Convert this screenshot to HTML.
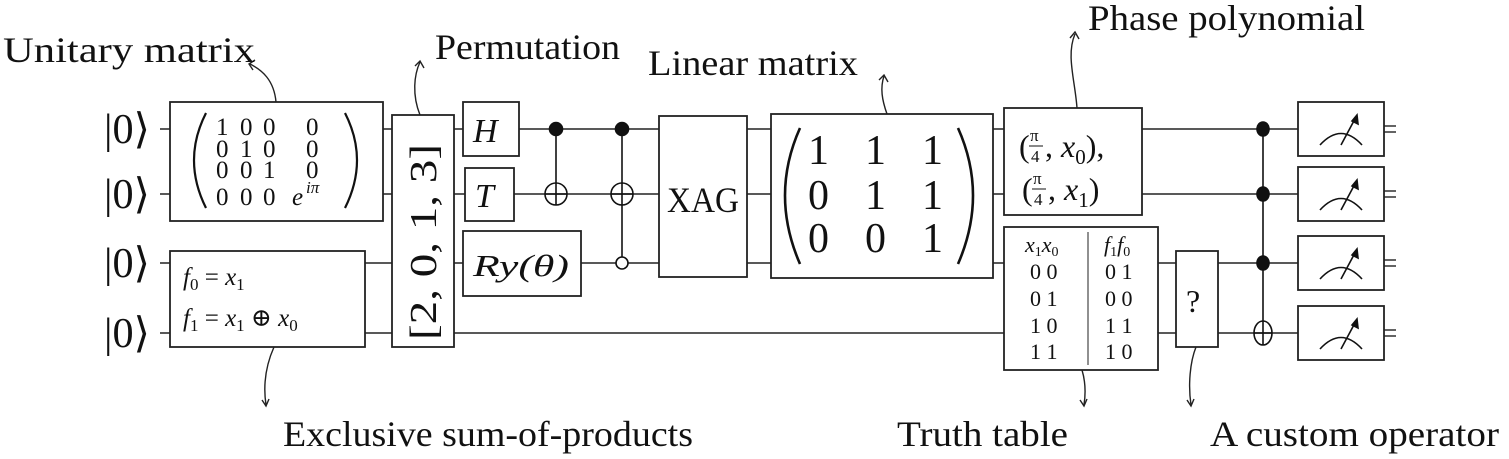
<!DOCTYPE html>
<html><head><meta charset="utf-8"><style>
html,body{margin:0;padding:0;background:#fff;}
svg{display:block;}
text{font-family:"Liberation Serif","DejaVu Serif",serif;fill:#111;}
.it{font-style:italic;}
</style></head><body>
<svg width="1509" height="459" viewBox="0 0 1509 459">
<g stroke="#222" stroke-width="1.6" fill="none">
  <line x1="160" y1="129" x2="1298" y2="129"/>
  <line x1="160" y1="194" x2="1298" y2="194"/>
  <line x1="160" y1="263" x2="1298" y2="263"/>
  <line x1="160" y1="333" x2="1298" y2="333"/>
  <g stroke-width="1.4">
    <line x1="1384" y1="126" x2="1396" y2="126"/><line x1="1384" y1="132" x2="1396" y2="132"/>
    <line x1="1384" y1="191" x2="1396" y2="191"/><line x1="1384" y1="197" x2="1396" y2="197"/>
    <line x1="1384" y1="260" x2="1396" y2="260"/><line x1="1384" y1="266" x2="1396" y2="266"/>
    <line x1="1384" y1="330" x2="1396" y2="330"/><line x1="1384" y1="336" x2="1396" y2="336"/>
  </g>
</g>

<g font-size="42">
  <text x="104" y="143" textLength="46" lengthAdjust="spacingAndGlyphs">|0⟩</text>
  <text x="104" y="208" textLength="46" lengthAdjust="spacingAndGlyphs">|0⟩</text>
  <text x="104" y="277" textLength="46" lengthAdjust="spacingAndGlyphs">|0⟩</text>
  <text x="104" y="347" textLength="46" lengthAdjust="spacingAndGlyphs">|0⟩</text>
</g>

<g stroke="#222" stroke-width="1.8" fill="#fff">
  <rect x="170" y="102" width="213" height="119"/>
  <rect x="170" y="251" width="195" height="96"/>
  <rect x="392" y="115" width="62" height="232"/>
  <rect x="463" y="102" width="56" height="54"/>
  <rect x="465" y="168" width="49" height="53"/>
  <rect x="463" y="231" width="118" height="65"/>
  <rect x="659" y="116" width="88" height="161"/>
  <rect x="771" y="114" width="222" height="164"/>
  <rect x="1004" y="108" width="138" height="107"/>
  <rect x="1004" y="227" width="154" height="143"/>
  <rect x="1176" y="251" width="42" height="96"/>
  <rect x="1298" y="102" width="86" height="54"/>
  <rect x="1298" y="167" width="86" height="54"/>
  <rect x="1298" y="236" width="86" height="54"/>
  <rect x="1298" y="306" width="86" height="54"/>
</g>

<g stroke="#111" stroke-width="1.6" fill="none">
  <path d="M1320 145 Q1341 122 1362 145"/><path d="M1341 145 L1356 117"/><path d="M1352 121 L1357 115 L1358 124 Z" fill="#111"/>
  <path d="M1320 210 Q1341 187 1362 210"/><path d="M1341 210 L1356 182"/><path d="M1352 186 L1357 180 L1358 189 Z" fill="#111"/>
  <path d="M1320 279 Q1341 256 1362 279"/><path d="M1341 279 L1356 251"/><path d="M1352 255 L1357 249 L1358 258 Z" fill="#111"/>
  <path d="M1320 349 Q1341 326 1362 349"/><path d="M1341 349 L1356 321"/><path d="M1352 325 L1357 319 L1358 328 Z" fill="#111"/>
</g>

<g stroke="#111" stroke-width="1.6">
  <line x1="556" y1="129" x2="556" y2="205"/>
  <circle cx="556" cy="129" r="6.5" fill="#111"/>
  <circle cx="556" cy="194" r="11" fill="none"/>
  <line x1="545" y1="194" x2="567" y2="194"/>
</g>
<g stroke="#111" stroke-width="1.6">
  <line x1="622" y1="129" x2="622" y2="257"/>
  <circle cx="622" cy="129" r="6.5" fill="#111"/>
  <circle cx="622" cy="194" r="11" fill="none"/>
  <line x1="611" y1="194" x2="633" y2="194"/>
  <circle cx="622" cy="263" r="6" fill="#fff"/>
</g>
<g stroke="#111" stroke-width="1.6">
  <line x1="1263" y1="129" x2="1263" y2="345"/>
  <ellipse cx="1263" cy="129" rx="6" ry="7" fill="#111"/>
  <ellipse cx="1263" cy="194" rx="6" ry="7" fill="#111"/>
  <ellipse cx="1263" cy="263" rx="6" ry="7" fill="#111"/>
  <ellipse cx="1263" cy="333" rx="9" ry="12" fill="none"/>
  <line x1="1254" y1="333" x2="1272" y2="333"/>
</g>

<g>
  <path d="M206 113 Q182 160 206 208" stroke="#111" stroke-width="2.2" fill="none"/>
  <path d="M345 113 Q369 160 345 208" stroke="#111" stroke-width="2.2" fill="none"/>
  <g font-size="25">
    <text x="216" y="135">1</text><text x="240" y="135">0</text><text x="263" y="135">0</text><text x="306" y="135">0</text>
    <text x="216" y="157">0</text><text x="240" y="157">1</text><text x="263" y="157">0</text><text x="306" y="157">0</text>
    <text x="216" y="178">0</text><text x="240" y="178">0</text><text x="263" y="178">1</text><text x="306" y="178">0</text>
    <text x="216" y="205">0</text><text x="240" y="205">0</text><text x="263" y="205">0</text>
    <text x="292" y="205" class="it">e</text><text x="306" y="193" font-size="17" class="it">iπ</text>
  </g>
</g>
<g font-size="25">
  <text x="183" y="285"><tspan class="it">f</tspan><tspan font-size="17" dy="5">0</tspan><tspan dy="-5"> = </tspan><tspan class="it">x</tspan><tspan font-size="17" dy="5">1</tspan></text>
  <text x="183" y="326"><tspan class="it">f</tspan><tspan font-size="17" dy="5">1</tspan><tspan dy="-5"> = </tspan><tspan class="it">x</tspan><tspan font-size="17" dy="5">1</tspan><tspan dy="-5"> ⊕ </tspan><tspan class="it">x</tspan><tspan font-size="17" dy="5">0</tspan></text>
</g>
<text transform="translate(436,340) rotate(-90)" x="0" y="0" font-size="38" textLength="196" lengthAdjust="spacingAndGlyphs">[2, 0, 1, 3]</text>
<text x="473" y="142" font-size="34" class="it">H</text>
<text x="475" y="207" font-size="34" class="it">T</text>
<text x="473" y="276" font-size="31" class="it" textLength="96" lengthAdjust="spacingAndGlyphs">Ry(θ)</text>
<text x="667" y="212" font-size="36" textLength="72" lengthAdjust="spacingAndGlyphs">XAG</text>
<g>
  <path d="M800 128 Q770 195 800 264" stroke="#111" stroke-width="2.6" fill="none"/>
  <path d="M958 128 Q988 195 958 264" stroke="#111" stroke-width="2.6" fill="none"/>
  <g font-size="42">
    <text x="808" y="164">1</text><text x="865" y="164">1</text><text x="922" y="164">1</text>
    <text x="808" y="209">0</text><text x="865" y="209">1</text><text x="922" y="209">1</text>
    <text x="808" y="252">0</text><text x="865" y="252">0</text><text x="922" y="252">1</text>
  </g>
</g>
<g font-size="32">
  <text x="1019" y="157">(</text><text x="1030" y="141" font-size="17">π</text><line x1="1029" y1="146" x2="1043" y2="146" stroke="#111" stroke-width="1"/><text x="1031" y="162" font-size="17">4</text>
  <text x="1045" y="157">, <tspan class="it">x</tspan><tspan font-size="21" dy="7">0</tspan><tspan dy="-7">),</tspan></text>
  <text x="1022" y="200">(</text><text x="1033" y="184" font-size="17">π</text><line x1="1032" y1="189" x2="1046" y2="189" stroke="#111" stroke-width="1"/><text x="1034" y="205" font-size="17">4</text>
  <text x="1048" y="200">, <tspan class="it">x</tspan><tspan font-size="21" dy="7">1</tspan><tspan dy="-7">)</tspan></text>
</g>
<g font-size="22">
  <line x1="1088" y1="232" x2="1088" y2="365" stroke="#222" stroke-width="1"/>
  <text x="1025" y="252" class="it">x<tspan font-size="14" dy="4" font-style="normal">1</tspan><tspan dy="-4">x</tspan><tspan font-size="14" dy="4" font-style="normal">0</tspan></text>
  <text x="1104" y="252" class="it">f<tspan font-size="14" dy="4" font-style="normal">1</tspan><tspan dy="-4">f</tspan><tspan font-size="14" dy="4" font-style="normal">0</tspan></text>
  <text x="1030" y="279">0 0</text><text x="1105" y="279">0 1</text>
  <text x="1030" y="306">0 1</text><text x="1105" y="306">0 0</text>
  <text x="1030" y="333">1 0</text><text x="1105" y="333">1 1</text>
  <text x="1030" y="359">1 1</text><text x="1105" y="359">1 0</text>
</g>
<text x="1186" y="312" font-size="32">?</text>

<g stroke="#222" stroke-width="1.4" fill="none">
  <path d="M276 102 C274 80 262 70 250 64"/><path d="M255 60 L249 64 L253 70"/>
  <path d="M420 115 C412 95 414 75 420 62"/><path d="M415 66 L420 61 L424 68"/>
  <path d="M887 114 C882 100 880 88 884 76"/><path d="M879 80 L884 75 L888 82"/>
  <path d="M1077 108 C1075 80 1066 55 1075 34"/><path d="M1070 38 L1075 32 L1079 39"/>
  <path d="M274 347 C266 365 263 385 266 405"/><path d="M262 400 L266 406 L269 399"/>
  <path d="M1082 370 C1085 380 1086 392 1084 405"/><path d="M1080 400 L1084 406 L1087 399"/>
  <path d="M1196 347 C1190 362 1188 385 1191 405"/><path d="M1187 400 L1191 406 L1194 399"/>
</g>

<g font-size="36">
  <text x="3" y="62" textLength="252" lengthAdjust="spacingAndGlyphs">Unitary matrix</text>
  <text x="435" y="59" textLength="185" lengthAdjust="spacingAndGlyphs">Permutation</text>
  <text x="648" y="75" textLength="210" lengthAdjust="spacingAndGlyphs">Linear matrix</text>
  <text x="1088" y="30" textLength="277" lengthAdjust="spacingAndGlyphs">Phase polynomial</text>
  <text x="283" y="446" textLength="410" lengthAdjust="spacingAndGlyphs">Exclusive sum-of-products</text>
  <text x="897" y="446" textLength="171" lengthAdjust="spacingAndGlyphs">Truth table</text>
  <text x="1210" y="446" textLength="289" lengthAdjust="spacingAndGlyphs">A custom operator</text>
</g>
</svg>
</body></html>
